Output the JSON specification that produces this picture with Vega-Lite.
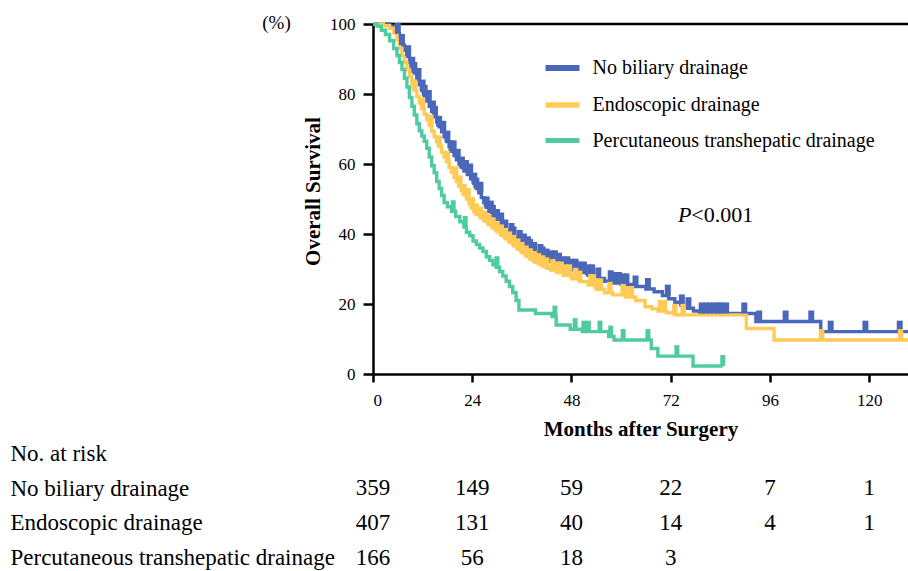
{
  "$schema": "https://vega.github.io/schema/vega-lite/v6.json",
  "background": "white",
  "padding": {"left": 10, "top": 10, "right": 0, "bottom": 0},
  "spacing": 0,
  "config": {
    "font": "Liberation Serif",
    "view": {"stroke": null},
    "axis": {"labelColor": "black", "titleColor": "black", "domainColor": "black", "tickColor": "black", "grid": false}
  },
  "datasets": {
    "curves": [
      {"group":"No biliary drainage","month":0,"surv":100},{"group":"No biliary drainage","month":4,"surv":99.4},{"group":"No biliary drainage","month":5,"surv":98.6},{"group":"No biliary drainage","month":5.8,"surv":97.2},{"group":"No biliary drainage","month":6.4,"surv":95.5},{"group":"No biliary drainage","month":7,"surv":94},{"group":"No biliary drainage","month":7.6,"surv":92.5},{"group":"No biliary drainage","month":8.2,"surv":90.8},{"group":"No biliary drainage","month":8.8,"surv":89},{"group":"No biliary drainage","month":9.4,"surv":87.5},{"group":"No biliary drainage","month":10,"surv":86},{"group":"No biliary drainage","month":10.6,"surv":84.3},{"group":"No biliary drainage","month":11.2,"surv":82.6},{"group":"No biliary drainage","month":11.8,"surv":81},{"group":"No biliary drainage","month":12.4,"surv":79.5},{"group":"No biliary drainage","month":13,"surv":78},{"group":"No biliary drainage","month":13.6,"surv":76.5},{"group":"No biliary drainage","month":14.2,"surv":75},{"group":"No biliary drainage","month":14.8,"surv":73.5},{"group":"No biliary drainage","month":15.4,"surv":72},{"group":"No biliary drainage","month":16,"surv":70.6},{"group":"No biliary drainage","month":16.6,"surv":69.2},{"group":"No biliary drainage","month":17.2,"surv":67.8},{"group":"No biliary drainage","month":17.8,"surv":66.4},{"group":"No biliary drainage","month":18.4,"surv":65},{"group":"No biliary drainage","month":19,"surv":63.6},{"group":"No biliary drainage","month":19.6,"surv":62.4},{"group":"No biliary drainage","month":20.2,"surv":61.2},{"group":"No biliary drainage","month":20.8,"surv":60},{"group":"No biliary drainage","month":21.4,"surv":59},{"group":"No biliary drainage","month":22,"surv":58},{"group":"No biliary drainage","month":22.8,"surv":57},{"group":"No biliary drainage","month":23.6,"surv":55.8},{"group":"No biliary drainage","month":24.4,"surv":54.4},{"group":"No biliary drainage","month":25,"surv":53},{"group":"No biliary drainage","month":25.6,"surv":51.8},{"group":"No biliary drainage","month":26.2,"surv":50.4},{"group":"No biliary drainage","month":26.8,"surv":49},{"group":"No biliary drainage","month":27.4,"surv":47.6},{"group":"No biliary drainage","month":28,"surv":46.4},{"group":"No biliary drainage","month":28.8,"surv":45.2},{"group":"No biliary drainage","month":29.6,"surv":44},{"group":"No biliary drainage","month":30.4,"surv":43},{"group":"No biliary drainage","month":31.2,"surv":42},{"group":"No biliary drainage","month":32,"surv":41},{"group":"No biliary drainage","month":33,"surv":40},{"group":"No biliary drainage","month":34,"surv":39},{"group":"No biliary drainage","month":35,"surv":38},{"group":"No biliary drainage","month":36,"surv":37},{"group":"No biliary drainage","month":37,"surv":36.2},{"group":"No biliary drainage","month":38,"surv":35.4},{"group":"No biliary drainage","month":39,"surv":34.6},{"group":"No biliary drainage","month":40,"surv":34},{"group":"No biliary drainage","month":41,"surv":33.3},{"group":"No biliary drainage","month":42,"surv":32.7},{"group":"No biliary drainage","month":43,"surv":32.2},{"group":"No biliary drainage","month":44.5,"surv":31.5},{"group":"No biliary drainage","month":46,"surv":30.5},{"group":"No biliary drainage","month":48,"surv":29.8},{"group":"No biliary drainage","month":50,"surv":29},{"group":"No biliary drainage","month":52,"surv":28.2},{"group":"No biliary drainage","month":54,"surv":27.3},{"group":"No biliary drainage","month":56,"surv":26.5},{"group":"No biliary drainage","month":58,"surv":26},{"group":"No biliary drainage","month":60,"surv":25.6},{"group":"No biliary drainage","month":63,"surv":25},{"group":"No biliary drainage","month":66,"surv":24.3},{"group":"No biliary drainage","month":68,"surv":23.5},{"group":"No biliary drainage","month":70,"surv":22.4},{"group":"No biliary drainage","month":71.5,"surv":21.5},{"group":"No biliary drainage","month":73,"surv":20.5},{"group":"No biliary drainage","month":74.5,"surv":19.6},{"group":"No biliary drainage","month":76,"surv":18.8},{"group":"No biliary drainage","month":77.5,"surv":18},{"group":"No biliary drainage","month":79,"surv":17.3},{"group":"No biliary drainage","month":92.6,"surv":15},{"group":"No biliary drainage","month":108.3,"surv":12.1},{"group":"No biliary drainage","month":129.4,"surv":12.1},
      {"group":"Endoscopic drainage","month":0,"surv":100},{"group":"Endoscopic drainage","month":2.5,"surv":99.5},{"group":"Endoscopic drainage","month":4,"surv":98.8},{"group":"Endoscopic drainage","month":5,"surv":97.5},{"group":"Endoscopic drainage","month":5.8,"surv":95.5},{"group":"Endoscopic drainage","month":6.4,"surv":93},{"group":"Endoscopic drainage","month":7,"surv":91},{"group":"Endoscopic drainage","month":7.6,"surv":89},{"group":"Endoscopic drainage","month":8.2,"surv":87},{"group":"Endoscopic drainage","month":8.8,"surv":85},{"group":"Endoscopic drainage","month":9.4,"surv":83},{"group":"Endoscopic drainage","month":10,"surv":81},{"group":"Endoscopic drainage","month":10.6,"surv":79.2},{"group":"Endoscopic drainage","month":11.2,"surv":77.4},{"group":"Endoscopic drainage","month":11.8,"surv":75.8},{"group":"Endoscopic drainage","month":12.4,"surv":74.2},{"group":"Endoscopic drainage","month":13,"surv":72.6},{"group":"Endoscopic drainage","month":13.6,"surv":71},{"group":"Endoscopic drainage","month":14.2,"surv":69.4},{"group":"Endoscopic drainage","month":14.8,"surv":67.8},{"group":"Endoscopic drainage","month":15.4,"surv":66.4},{"group":"Endoscopic drainage","month":16,"surv":65},{"group":"Endoscopic drainage","month":16.6,"surv":63.4},{"group":"Endoscopic drainage","month":17.2,"surv":62},{"group":"Endoscopic drainage","month":17.8,"surv":60.6},{"group":"Endoscopic drainage","month":18.4,"surv":59},{"group":"Endoscopic drainage","month":19,"surv":57.6},{"group":"Endoscopic drainage","month":19.6,"surv":56.2},{"group":"Endoscopic drainage","month":20.2,"surv":55},{"group":"Endoscopic drainage","month":20.8,"surv":53.6},{"group":"Endoscopic drainage","month":21.4,"surv":52.4},{"group":"Endoscopic drainage","month":22,"surv":51.2},{"group":"Endoscopic drainage","month":22.6,"surv":50},{"group":"Endoscopic drainage","month":23.2,"surv":48.6},{"group":"Endoscopic drainage","month":23.8,"surv":47.4},{"group":"Endoscopic drainage","month":24.4,"surv":46.4},{"group":"Endoscopic drainage","month":25,"surv":45.6},{"group":"Endoscopic drainage","month":26,"surv":44.6},{"group":"Endoscopic drainage","month":27,"surv":43.6},{"group":"Endoscopic drainage","month":28,"surv":42.6},{"group":"Endoscopic drainage","month":29,"surv":41.6},{"group":"Endoscopic drainage","month":30,"surv":40.6},{"group":"Endoscopic drainage","month":31,"surv":39.6},{"group":"Endoscopic drainage","month":32,"surv":38.6},{"group":"Endoscopic drainage","month":33,"surv":37.6},{"group":"Endoscopic drainage","month":34,"surv":36.6},{"group":"Endoscopic drainage","month":35,"surv":35.6},{"group":"Endoscopic drainage","month":36,"surv":34.6},{"group":"Endoscopic drainage","month":37,"surv":33.6},{"group":"Endoscopic drainage","month":38,"surv":32.8},{"group":"Endoscopic drainage","month":39,"surv":32},{"group":"Endoscopic drainage","month":40,"surv":31.4},{"group":"Endoscopic drainage","month":41,"surv":30.8},{"group":"Endoscopic drainage","month":42,"surv":30.2},{"group":"Endoscopic drainage","month":43,"surv":29.7},{"group":"Endoscopic drainage","month":44.5,"surv":29},{"group":"Endoscopic drainage","month":46,"surv":28.2},{"group":"Endoscopic drainage","month":48,"surv":27.2},{"group":"Endoscopic drainage","month":50,"surv":26.4},{"group":"Endoscopic drainage","month":52,"surv":25.4},{"group":"Endoscopic drainage","month":54,"surv":24.2},{"group":"Endoscopic drainage","month":56,"surv":23.2},{"group":"Endoscopic drainage","month":58,"surv":22.6},{"group":"Endoscopic drainage","month":61,"surv":22},{"group":"Endoscopic drainage","month":63.5,"surv":21},{"group":"Endoscopic drainage","month":65.8,"surv":19.2},{"group":"Endoscopic drainage","month":67.5,"surv":18.6},{"group":"Endoscopic drainage","month":69,"surv":18},{"group":"Endoscopic drainage","month":71,"surv":17.5},{"group":"Endoscopic drainage","month":73,"surv":16.9},{"group":"Endoscopic drainage","month":90.3,"surv":13},{"group":"Endoscopic drainage","month":97,"surv":9.7},{"group":"Endoscopic drainage","month":129.4,"surv":9.7},
      {"group":"Percutaneous transhepatic drainage","month":0,"surv":100},{"group":"Percutaneous transhepatic drainage","month":1,"surv":99.4},{"group":"Percutaneous transhepatic drainage","month":2,"surv":98.2},{"group":"Percutaneous transhepatic drainage","month":3,"surv":97},{"group":"Percutaneous transhepatic drainage","month":4,"surv":95.2},{"group":"Percutaneous transhepatic drainage","month":5,"surv":93},{"group":"Percutaneous transhepatic drainage","month":5.8,"surv":91},{"group":"Percutaneous transhepatic drainage","month":6.4,"surv":89},{"group":"Percutaneous transhepatic drainage","month":7,"surv":87},{"group":"Percutaneous transhepatic drainage","month":7.6,"surv":84.5},{"group":"Percutaneous transhepatic drainage","month":8.2,"surv":82},{"group":"Percutaneous transhepatic drainage","month":8.8,"surv":79},{"group":"Percutaneous transhepatic drainage","month":9.4,"surv":76.5},{"group":"Percutaneous transhepatic drainage","month":10,"surv":74},{"group":"Percutaneous transhepatic drainage","month":10.6,"surv":71.5},{"group":"Percutaneous transhepatic drainage","month":11.2,"surv":69.5},{"group":"Percutaneous transhepatic drainage","month":11.8,"surv":68},{"group":"Percutaneous transhepatic drainage","month":12.4,"surv":66.5},{"group":"Percutaneous transhepatic drainage","month":13,"surv":64.5},{"group":"Percutaneous transhepatic drainage","month":13.6,"surv":62},{"group":"Percutaneous transhepatic drainage","month":14.2,"surv":59.5},{"group":"Percutaneous transhepatic drainage","month":14.8,"surv":57.5},{"group":"Percutaneous transhepatic drainage","month":15.4,"surv":55},{"group":"Percutaneous transhepatic drainage","month":16,"surv":53},{"group":"Percutaneous transhepatic drainage","month":16.6,"surv":51},{"group":"Percutaneous transhepatic drainage","month":17.2,"surv":49},{"group":"Percutaneous transhepatic drainage","month":18,"surv":47.8},{"group":"Percutaneous transhepatic drainage","month":19,"surv":46.5},{"group":"Percutaneous transhepatic drainage","month":20,"surv":45},{"group":"Percutaneous transhepatic drainage","month":21,"surv":43.5},{"group":"Percutaneous transhepatic drainage","month":22,"surv":42},{"group":"Percutaneous transhepatic drainage","month":22.6,"surv":40.5},{"group":"Percutaneous transhepatic drainage","month":23.4,"surv":39.5},{"group":"Percutaneous transhepatic drainage","month":24.2,"surv":38},{"group":"Percutaneous transhepatic drainage","month":25,"surv":37},{"group":"Percutaneous transhepatic drainage","month":25.8,"surv":36},{"group":"Percutaneous transhepatic drainage","month":26.6,"surv":35},{"group":"Percutaneous transhepatic drainage","month":27.4,"surv":33.5},{"group":"Percutaneous transhepatic drainage","month":28.2,"surv":32.5},{"group":"Percutaneous transhepatic drainage","month":29,"surv":31.2},{"group":"Percutaneous transhepatic drainage","month":29.8,"surv":30.5},{"group":"Percutaneous transhepatic drainage","month":30.6,"surv":29.3},{"group":"Percutaneous transhepatic drainage","month":31.4,"surv":28},{"group":"Percutaneous transhepatic drainage","month":32.2,"surv":26.5},{"group":"Percutaneous transhepatic drainage","month":33,"surv":25},{"group":"Percutaneous transhepatic drainage","month":33.8,"surv":23.3},{"group":"Percutaneous transhepatic drainage","month":34.6,"surv":21},{"group":"Percutaneous transhepatic drainage","month":35.3,"surv":18.3},{"group":"Percutaneous transhepatic drainage","month":39.3,"surv":17.3},{"group":"Percutaneous transhepatic drainage","month":43.3,"surv":16.4},{"group":"Percutaneous transhepatic drainage","month":44.3,"surv":14},{"group":"Percutaneous transhepatic drainage","month":47.7,"surv":12.8},{"group":"Percutaneous transhepatic drainage","month":50.6,"surv":12.1},{"group":"Percutaneous transhepatic drainage","month":57,"surv":10.7},{"group":"Percutaneous transhepatic drainage","month":58.3,"surv":9.7},{"group":"Percutaneous transhepatic drainage","month":67.3,"surv":7.3},{"group":"Percutaneous transhepatic drainage","month":68.9,"surv":5.1},{"group":"Percutaneous transhepatic drainage","month":77.4,"surv":2.3},{"group":"Percutaneous transhepatic drainage","month":84.6,"surv":2.3}
    ],
    "censors": [
      {"group":"No biliary drainage","month":6,"surv":97.2},{"group":"No biliary drainage","month":7,"surv":94},{"group":"No biliary drainage","month":8.5,"surv":90.8},{"group":"No biliary drainage","month":9.5,"surv":87.5},{"group":"No biliary drainage","month":10,"surv":86},{"group":"No biliary drainage","month":11,"surv":84.3},{"group":"No biliary drainage","month":12,"surv":81},{"group":"No biliary drainage","month":12.5,"surv":79.5},{"group":"No biliary drainage","month":13.5,"surv":78},{"group":"No biliary drainage","month":14.5,"surv":75},{"group":"No biliary drainage","month":15,"surv":73.5},{"group":"No biliary drainage","month":16,"surv":70.6},{"group":"No biliary drainage","month":17,"surv":69.2},{"group":"No biliary drainage","month":18,"surv":66.4},{"group":"No biliary drainage","month":19,"surv":63.6},{"group":"No biliary drainage","month":19.5,"surv":63.6},{"group":"No biliary drainage","month":20.5,"surv":61.2},{"group":"No biliary drainage","month":21.5,"surv":59},{"group":"No biliary drainage","month":22.5,"surv":58},{"group":"No biliary drainage","month":23.5,"surv":57},{"group":"No biliary drainage","month":24.5,"surv":54.4},{"group":"No biliary drainage","month":25,"surv":53},{"group":"No biliary drainage","month":26,"surv":51.8},{"group":"No biliary drainage","month":27.5,"surv":47.6},{"group":"No biliary drainage","month":28.5,"surv":46.4},{"group":"No biliary drainage","month":29,"surv":45.2},{"group":"No biliary drainage","month":30,"surv":44},{"group":"No biliary drainage","month":31,"surv":43},{"group":"No biliary drainage","month":32,"surv":41},{"group":"No biliary drainage","month":33.5,"surv":40},{"group":"No biliary drainage","month":34,"surv":39},{"group":"No biliary drainage","month":35.5,"surv":38},{"group":"No biliary drainage","month":36.5,"surv":37},{"group":"No biliary drainage","month":37.5,"surv":36.2},{"group":"No biliary drainage","month":38,"surv":35.4},{"group":"No biliary drainage","month":39,"surv":34.6},{"group":"No biliary drainage","month":40.5,"surv":34},{"group":"No biliary drainage","month":41,"surv":33.3},{"group":"No biliary drainage","month":42,"surv":32.7},{"group":"No biliary drainage","month":43,"surv":32.2},{"group":"No biliary drainage","month":44,"surv":32.2},{"group":"No biliary drainage","month":45,"surv":31.5},{"group":"No biliary drainage","month":46,"surv":30.5},{"group":"No biliary drainage","month":47,"surv":30.5},{"group":"No biliary drainage","month":48,"surv":29.8},{"group":"No biliary drainage","month":49,"surv":29.8},{"group":"No biliary drainage","month":50,"surv":29},{"group":"No biliary drainage","month":51,"surv":29},{"group":"No biliary drainage","month":52,"surv":28.2},{"group":"No biliary drainage","month":53,"surv":28.2},{"group":"No biliary drainage","month":54.5,"surv":27.3},{"group":"No biliary drainage","month":57.5,"surv":26.5},{"group":"No biliary drainage","month":58.5,"surv":26},{"group":"No biliary drainage","month":59.5,"surv":26},{"group":"No biliary drainage","month":60.5,"surv":25.6},{"group":"No biliary drainage","month":61.3,"surv":25.6},{"group":"No biliary drainage","month":63.5,"surv":25},{"group":"No biliary drainage","month":66.5,"surv":24.3},{"group":"No biliary drainage","month":71.3,"surv":22.4},{"group":"No biliary drainage","month":74.7,"surv":19.6},{"group":"No biliary drainage","month":76.3,"surv":18.8},{"group":"No biliary drainage","month":79.5,"surv":17.3},{"group":"No biliary drainage","month":80.5,"surv":17.3},{"group":"No biliary drainage","month":81.5,"surv":17.3},{"group":"No biliary drainage","month":82.5,"surv":17.3},{"group":"No biliary drainage","month":83.5,"surv":17.3},{"group":"No biliary drainage","month":84.2,"surv":17.3},{"group":"No biliary drainage","month":85.4,"surv":17.3},{"group":"No biliary drainage","month":89.8,"surv":17.3},{"group":"No biliary drainage","month":93.4,"surv":15},{"group":"No biliary drainage","month":99.8,"surv":15},{"group":"No biliary drainage","month":106,"surv":15},{"group":"No biliary drainage","month":110.7,"surv":12.1},{"group":"No biliary drainage","month":119.1,"surv":12.1},{"group":"No biliary drainage","month":127.4,"surv":12.1},
      {"group":"Endoscopic drainage","month":10,"surv":81},{"group":"Endoscopic drainage","month":12,"surv":75.8},{"group":"Endoscopic drainage","month":14,"surv":71},{"group":"Endoscopic drainage","month":16,"surv":65},{"group":"Endoscopic drainage","month":18,"surv":60.6},{"group":"Endoscopic drainage","month":20,"surv":56.2},{"group":"Endoscopic drainage","month":21,"surv":53.6},{"group":"Endoscopic drainage","month":22,"surv":51.2},{"group":"Endoscopic drainage","month":23,"surv":50},{"group":"Endoscopic drainage","month":24,"surv":47.4},{"group":"Endoscopic drainage","month":25,"surv":45.6},{"group":"Endoscopic drainage","month":26,"surv":44.6},{"group":"Endoscopic drainage","month":27,"surv":43.6},{"group":"Endoscopic drainage","month":28,"surv":42.6},{"group":"Endoscopic drainage","month":29,"surv":41.6},{"group":"Endoscopic drainage","month":30,"surv":40.6},{"group":"Endoscopic drainage","month":31,"surv":39.6},{"group":"Endoscopic drainage","month":32,"surv":38.6},{"group":"Endoscopic drainage","month":33,"surv":37.6},{"group":"Endoscopic drainage","month":34,"surv":36.6},{"group":"Endoscopic drainage","month":35,"surv":35.6},{"group":"Endoscopic drainage","month":36,"surv":34.6},{"group":"Endoscopic drainage","month":37,"surv":33.6},{"group":"Endoscopic drainage","month":38,"surv":32.8},{"group":"Endoscopic drainage","month":39,"surv":32},{"group":"Endoscopic drainage","month":40,"surv":31.4},{"group":"Endoscopic drainage","month":41,"surv":30.8},{"group":"Endoscopic drainage","month":42,"surv":30.2},{"group":"Endoscopic drainage","month":43.5,"surv":29.7},{"group":"Endoscopic drainage","month":44.5,"surv":29},{"group":"Endoscopic drainage","month":45.5,"surv":29},{"group":"Endoscopic drainage","month":46.5,"surv":28.2},{"group":"Endoscopic drainage","month":47.5,"surv":28.2},{"group":"Endoscopic drainage","month":49,"surv":27.2},{"group":"Endoscopic drainage","month":50,"surv":26.4},{"group":"Endoscopic drainage","month":52.7,"surv":25.4},{"group":"Endoscopic drainage","month":53.3,"surv":25.4},{"group":"Endoscopic drainage","month":54,"surv":24.2},{"group":"Endoscopic drainage","month":55,"surv":24.2},{"group":"Endoscopic drainage","month":57.3,"surv":23.2},{"group":"Endoscopic drainage","month":60.5,"surv":22.6},{"group":"Endoscopic drainage","month":61.5,"surv":22},{"group":"Endoscopic drainage","month":62.5,"surv":22},{"group":"Endoscopic drainage","month":69.5,"surv":18},{"group":"Endoscopic drainage","month":70.5,"surv":18},{"group":"Endoscopic drainage","month":73,"surv":16.9},{"group":"Endoscopic drainage","month":75,"surv":16.9},{"group":"Endoscopic drainage","month":108.5,"surv":9.7},{"group":"Endoscopic drainage","month":127.6,"surv":9.7},
      {"group":"Percutaneous transhepatic drainage","month":19.4,"surv":46.5},{"group":"Percutaneous transhepatic drainage","month":22.3,"surv":42},{"group":"Percutaneous transhepatic drainage","month":30,"surv":30.5},{"group":"Percutaneous transhepatic drainage","month":44,"surv":16.4},{"group":"Percutaneous transhepatic drainage","month":48.9,"surv":12.8},{"group":"Percutaneous transhepatic drainage","month":51,"surv":12.1},{"group":"Percutaneous transhepatic drainage","month":52.1,"surv":12.1},{"group":"Percutaneous transhepatic drainage","month":54.9,"surv":12.1},{"group":"Percutaneous transhepatic drainage","month":57.5,"surv":10.7},{"group":"Percutaneous transhepatic drainage","month":60.5,"surv":9.7},{"group":"Percutaneous transhepatic drainage","month":66.5,"surv":9.7},{"group":"Percutaneous transhepatic drainage","month":73.5,"surv":5.1},{"group":"Percutaneous transhepatic drainage","month":84.6,"surv":2.3}
    ],
    "risk": [
      {"row":"No biliary drainage","month":0,"n":359},{"row":"No biliary drainage","month":24,"n":149},{"row":"No biliary drainage","month":48,"n":59},{"row":"No biliary drainage","month":72,"n":22},{"row":"No biliary drainage","month":96,"n":7},{"row":"No biliary drainage","month":120,"n":1},
      {"row":"Endoscopic drainage","month":0,"n":407},{"row":"Endoscopic drainage","month":24,"n":131},{"row":"Endoscopic drainage","month":48,"n":40},{"row":"Endoscopic drainage","month":72,"n":14},{"row":"Endoscopic drainage","month":96,"n":4},{"row":"Endoscopic drainage","month":120,"n":1},
      {"row":"Percutaneous transhepatic drainage","month":0,"n":166},{"row":"Percutaneous transhepatic drainage","month":24,"n":56},{"row":"Percutaneous transhepatic drainage","month":48,"n":18},{"row":"Percutaneous transhepatic drainage","month":72,"n":3}
    ]
  },
  "vconcat": [
    {
      "width": 535,
      "height": 350,
      "layer": [
        {
          "data": {"values": [{}]},
          "mark": {"type": "rule", "color": "black", "strokeWidth": 2.5},
          "encoding": {"y": {"datum": 100, "type": "quantitative"}}
        },
        {
          "data": {"name": "curves"},
          "mark": {"type": "line", "interpolate": "step-after", "strokeWidth": 3.4},
          "encoding": {
            "x": {"field": "month", "type": "quantitative",
                  "scale": {"domain": [0, 129.4], "nice": false, "zero": false},
                  "axis": {"values": [0, 24, 48, 72, 96, 120], "title": "Months after Surgery",
                           "labelFontSize": 17, "labelPadding": 10, "tickSize": 8, "tickWidth": 2.5,
                           "domainWidth": 2.5, "titleFontSize": 21, "titleFontWeight": "bold", "titlePadding": 10}},
            "y": {"field": "surv", "type": "quantitative",
                  "scale": {"domain": [0, 100], "nice": false},
                  "axis": {"values": [0, 20, 40, 60, 80, 100], "title": "Overall Survival",
                           "labelFontSize": 17, "labelPadding": 8, "tickSize": 10, "tickWidth": 2.5,
                           "domainWidth": 2.5, "titleFontSize": 21, "titleFontWeight": "bold", "titlePadding": 6, "titleY": 167}},
            "color": {"field": "group", "type": "nominal",
                      "scale": {"domain": ["No biliary drainage", "Endoscopic drainage", "Percutaneous transhepatic drainage"],
                                "range": ["#4A67BA", "#FFCA55", "#4FCB9F"]},
                      "legend": {"orient": "none", "legendX": 169.5, "legendY": 24, "title": null,
                                 "symbolType": "stroke", "symbolSize": 1156, "symbolStrokeWidth": 4.5,
                                 "labelFontSize": 20, "labelOffset": 10, "rowPadding": 5, "labelColor": "black",
                                 "labelLimit": 500, "padding": 0}}
          }
        },
        {
          "data": {"name": "censors"},
          "mark": {"type": "point", "shape": "M0,0L0,-1", "filled": false, "opacity": 1, "size": 484, "strokeCap": "butt"},
          "encoding": {
            "x": {"field": "month", "type": "quantitative"},
            "y": {"field": "surv", "type": "quantitative"},
            "color": {"field": "group", "type": "nominal", "legend": null},
            "strokeWidth": {"field": "group", "type": "nominal", "legend": null,
                            "scale": {"domain": ["No biliary drainage", "Endoscopic drainage", "Percutaneous transhepatic drainage"], "range": [6, 5, 2.8]}}
          }
        },
        {
          "data": {"values": [{}]},
          "mark": {"type": "text", "text": "(%)", "fontSize": 19, "dx": -96.5, "dy": -1, "align": "center", "baseline": "middle", "color": "black"},
          "encoding": {"x": {"datum": 0, "type": "quantitative"}, "y": {"datum": 100, "type": "quantitative"}}
        },
        {
          "data": {"values": [{}]},
          "mark": {"type": "text", "text": "P", "fontSize": 22, "fontStyle": "italic", "align": "right", "baseline": "middle", "color": "black"},
          "encoding": {"x": {"datum": 77, "type": "quantitative"}, "y": {"datum": 45.4, "type": "quantitative"}}
        },
        {
          "data": {"values": [{}]},
          "mark": {"type": "text", "text": "<0.001", "fontSize": 22, "align": "left", "baseline": "middle", "color": "black"},
          "encoding": {"x": {"datum": 77, "type": "quantitative"}, "y": {"datum": 45.4, "type": "quantitative"}}
        }
      ]
    },
    {
      "width": 535,
      "height": 133,
      "data": {"name": "risk"},
      "mark": {"type": "text", "fontSize": 23, "color": "black", "baseline": "middle"},
      "encoding": {
        "x": {"field": "month", "type": "quantitative", "scale": {"domain": [0, 129.4], "nice": false, "zero": false}, "axis": null},
        "y": {"field": "row", "type": "ordinal",
              "scale": {"type": "point", "domain": ["No. at risk", "No biliary drainage", "Endoscopic drainage", "Percutaneous transhepatic drainage"], "padding": 0.41},
              "axis": {"title": null, "ticks": false, "tickSize": 0, "domain": false, "labelAlign": "left", "labelPadding": 363, "labelFontSize": 23, "labelLimit": 0}},
        "text": {"field": "n", "type": "quantitative"}
      }
    }
  ]
}
